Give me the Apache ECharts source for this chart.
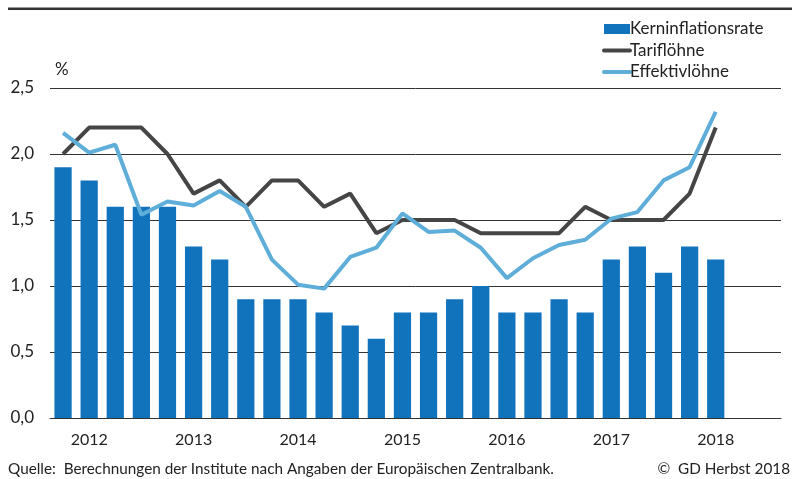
<!DOCTYPE html>
<html>
<head>
<meta charset="utf-8">
<script src="https://cdn.jsdelivr.net/npm/echarts@6/dist/echarts.min.js"></script>
<style>
  html, body { margin: 0; padding: 0; background: #fff; }
  #main { width: 792px; height: 479px; }
</style>
</head>
<body>
<div id="main"></div>
<script>
// Quartale 2012 Q1 bis 2018 Q4 (2018 Q3/Q4 noch ohne Werte)
const years = ["2012", "2013", "2014", "2015", "2016", "2017", "2018"];
const quarters = [];
years.forEach((y) => { for (let q = 1; q <= 4; q++) quarters.push(y + " Q" + q); });

const kerninflation = [1.9, 1.8, 1.6, 1.6, 1.6, 1.3, 1.2, 0.9, 0.9, 0.9, 0.8, 0.7,
  0.6, 0.8, 0.8, 0.9, 1.0, 0.8, 0.8, 0.9, 0.8, 1.2, 1.3, 1.1, 1.3, 1.2, null, null];
const tarifloehne = [2.0, 2.2, 2.2, 2.2, 2.0, 1.7, 1.8, 1.6, 1.8, 1.8, 1.6, 1.7,
  1.4, 1.5, 1.5, 1.5, 1.4, 1.4, 1.4, 1.4, 1.6, 1.5, 1.5, 1.5, 1.7, 2.2, null, null];
const effektivloehne = [2.16, 2.01, 2.07, 1.54, 1.64, 1.61, 1.72, 1.6, 1.2, 1.01, 0.98, 1.22,
  1.29, 1.55, 1.41, 1.42, 1.29, 1.06, 1.21, 1.31, 1.35, 1.51, 1.56, 1.8, 1.9, 2.32, null, null];

const font = "Lato";
const textColor = "#222";

const chart = echarts.init(document.getElementById("main"));
const option = {
  animation: false,
  textStyle: { fontFamily: font },
  grid: { left: 50, right: 11, top: 88, bottom: 61 },
  legend: {
    orient: "vertical",
    left: 597,
    top: 15,
    itemWidth: 26,
    itemHeight: 10,
    itemGap: 3.5,
    textStyle: { fontFamily: font, fontSize: 17, lineHeight: 18, color: textColor, padding: [0, 0, 0, -5] },
    data: [
      { name: "Kerninflationsrate", icon: "rect" },
      { name: "Tariflöhne", itemStyle: { opacity: 0 }, lineStyle: { width: 4, cap: "round" } },
      { name: "Effektivlöhne", itemStyle: { opacity: 0 }, lineStyle: { width: 4, cap: "round" } }
    ]
  },
  xAxis: [
    {
      type: "category",
      data: quarters,
      show: false
    },
    {
      type: "category",
      data: years,
      position: "bottom",
      boundaryGap: true,
      axisLine: { lineStyle: { color: "#333", width: 1 } },
      axisTick: { length: 6, lineStyle: { color: "#333" } },
      axisLabel: { fontSize: 16, color: textColor, margin: 14, fontFamily: font, padding: [0, 26, 0, 0] }
    }
  ],
  yAxis: {
    type: "value",
    min: 0,
    max: 2.5,
    interval: 0.5,
    name: "%",
    nameLocation: "end",
    nameGap: 10,
    nameTextStyle: { fontSize: 17, color: textColor, align: "left", padding: [0, 0, 0, 5], fontFamily: font },
    axisLine: { show: false },
    axisTick: { show: false },
    axisLabel: {
      fontSize: 17, color: textColor, margin: 16, fontFamily: font,
      formatter: (v) => v.toFixed(1).replace(".", ",")
    },
    splitLine: { lineStyle: { color: "#333", width: 1 } }
  },
  series: [
    {
      name: "Kerninflationsrate",
      type: "bar",
      data: kerninflation,
      barWidth: "66%",
      itemStyle: { color: "#1173BC" }
    },
    {
      name: "Tariflöhne",
      type: "line",
      data: tarifloehne,
      symbol: "none",
      lineStyle: { color: "#454545", width: 4 },
      itemStyle: { color: "#454545" }
    },
    {
      name: "Effektivlöhne",
      type: "line",
      data: effektivloehne,
      symbol: "none",
      lineStyle: { color: "#5EAED9", width: 4 },
      itemStyle: { color: "#5EAED9" }
    }
  ],
  graphic: [
    {
      type: "rect",
      shape: { x: 8, y: 7.5, width: 784, height: 2.5 },
      style: { fill: "#333" }
    },
    {
      type: "text",
      left: 8,
      top: 462,
      style: {
        text: "Quelle:  Berechnungen der Institute nach Angaben der Europäischen Zentralbank.",
        fontFamily: font, fontSize: 15.3, fill: textColor
      }
    },
    {
      type: "text",
      right: 2,
      top: 462,
      style: { text: "©  GD Herbst 2018", fontFamily: font, fontSize: 15.3, fill: textColor }
    }
  ]
};
option && chart.setOption(option);
</script>
</body>
</html>
